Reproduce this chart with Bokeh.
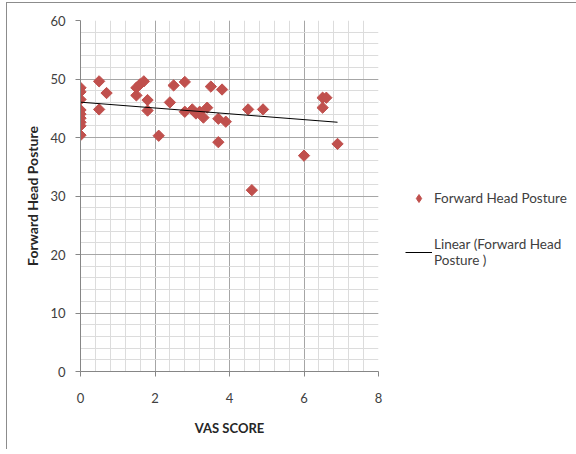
import numpy as np
from bokeh.plotting import figure
from bokeh.layouts import row
from bokeh.models import ColumnDataSource, Legend, LegendItem, FixedTicker, Range1d
from bokeh.embed import file_html
from bokeh.resources import INLINE

# Data
vas_score = [0, 0, 0, 0, 0, 0, 0, 0, 0,
             0.5, 0.7, 0.5, 1.5, 1.6, 1.7, 1.5, 1.8, 1.8, 2.1,
             2.4, 2.5, 2.8, 2.8, 3.0, 3.1, 3.2, 3.3, 3.4, 3.5,
             3.8, 3.7, 3.9, 3.7, 4.5, 4.9, 4.6, 6.0, 6.5, 6.6, 6.5, 6.9]
forward_head_posture = [48.5, 47.8, 46.5, 44.7, 44.0, 43.3, 42.6, 42.0, 40.4,
                        49.6, 47.6, 44.8, 48.5, 49.1, 49.6, 47.2, 46.4, 44.6, 40.3,
                        46.0, 48.9, 49.5, 44.4, 44.8, 44.1, 44.4, 43.4, 45.1, 48.7,
                        48.2, 43.2, 42.7, 39.2, 44.8, 44.8, 31.0, 36.9, 46.8, 46.8, 45.1, 38.9]
x_ticks = [0, 2, 4, 6, 8]
y_ticks = [0, 10, 20, 30, 40, 50, 60]
series_name = "Forward Head Posture"
trend_name = "Linear (Forward Head\nPosture )"

FONT = "Lato"
RED = "#C0504D"

p = figure(frame_width=298, frame_height=351, output_backend="svg", toolbar_location=None,
           x_range=(0, 8), y_range=(0, 60),
           min_border_left=73, min_border_right=10, min_border_top=17, min_border_bottom=78)
p.outline_line_color = None
p.background_fill_color = "white"

src = ColumnDataSource(dict(x=vas_score, y=forward_head_posture))
pts = p.scatter("x", "y", source=src, marker="square", angle=np.pi / 4, size=8,
                fill_color=RED, line_color=RED)

coef = np.polyfit(np.array(vas_score), np.array(forward_head_posture), 1)
tx = np.array([min(vas_score), max(vas_score)])
ty = coef[0] * tx + coef[1]
trend = p.line(tx, ty, line_color="black", line_width=1)

for ax in (p.xaxis[0], p.yaxis[0]):
    ax.axis_line_color = "#868686"
    ax.major_tick_line_color = "#868686"
    ax.major_tick_out = 5
    ax.major_tick_in = 0
    ax.minor_tick_out = 0
    ax.minor_tick_in = 0
    ax.major_label_text_font = FONT
    ax.major_label_text_font_size = "13px"
    ax.major_label_text_color = "#404040"
    ax.axis_label_text_font = FONT
    ax.axis_label_text_font_style = "bold"
    ax.axis_label_text_color = "#262626"

p.xaxis[0].ticker = FixedTicker(ticks=x_ticks, minor_ticks=[i * 0.4 for i in range(21)])
p.yaxis[0].ticker = FixedTicker(ticks=y_ticks, minor_ticks=list(range(0, 61, 2)))
p.xgrid.ticker = p.xaxis[0].ticker
p.ygrid.ticker = p.yaxis[0].ticker
p.xaxis.axis_label = "VAS SCORE"
p.yaxis.axis_label = "Forward Head Posture"
p.xaxis.axis_label_text_font_size = "13px"
p.yaxis.axis_label_text_font_size = "14px"
p.xaxis.major_label_standoff = 16
p.yaxis.major_label_standoff = 10
p.xaxis.axis_label_standoff = 14
p.yaxis.axis_label_standoff = 6

for g in (p.xgrid[0], p.ygrid[0]):
    g.grid_line_color = "#a6a6a6"
    g.grid_line_width = 1
    g.minor_grid_line_color = "#dcdcdc"
    g.minor_grid_line_width = 1

# Legend panel to the right of the plot (its renderers lie outside its visible range)
p2 = figure(width=189, height=446, output_backend="svg", toolbar_location=None,
            x_axis_type=None, y_axis_type=None,
            x_range=Range1d(100, 101), y_range=Range1d(100, 101), min_border=0)
p2.outline_line_color = None
p2.xgrid.visible = False
p2.ygrid.visible = False
lg_pts = p2.scatter("x", "y", source=src, marker="diamond", size=11,
                    fill_color=RED, line_color=RED)
lg_line = p2.line(tx, ty, line_color="black", line_width=1)

legend = Legend(items=[LegendItem(label=series_name, renderers=[lg_pts]),
                       LegendItem(label=trend_name, renderers=[lg_line])],
                location=(17, 103), orientation="vertical",
                border_line_color=None, background_fill_alpha=0,
                padding=0, margin=0, spacing=28, glyph_width=27, glyph_height=20,
                label_height=20, label_standoff=2,
                label_text_font=FONT, label_text_font_size="13.5px",
                label_text_color="#404040")
p2.add_layout(legend, "center")

layout = row(p, p2, spacing=0)
layout.styles = {"border-top": "1px solid #8c8c8c", "border-left": "1px solid #8c8c8c",
                 "margin-left": "6px", "margin-top": "2px"}

open("out.html", "w").write(file_html(layout, INLINE))
